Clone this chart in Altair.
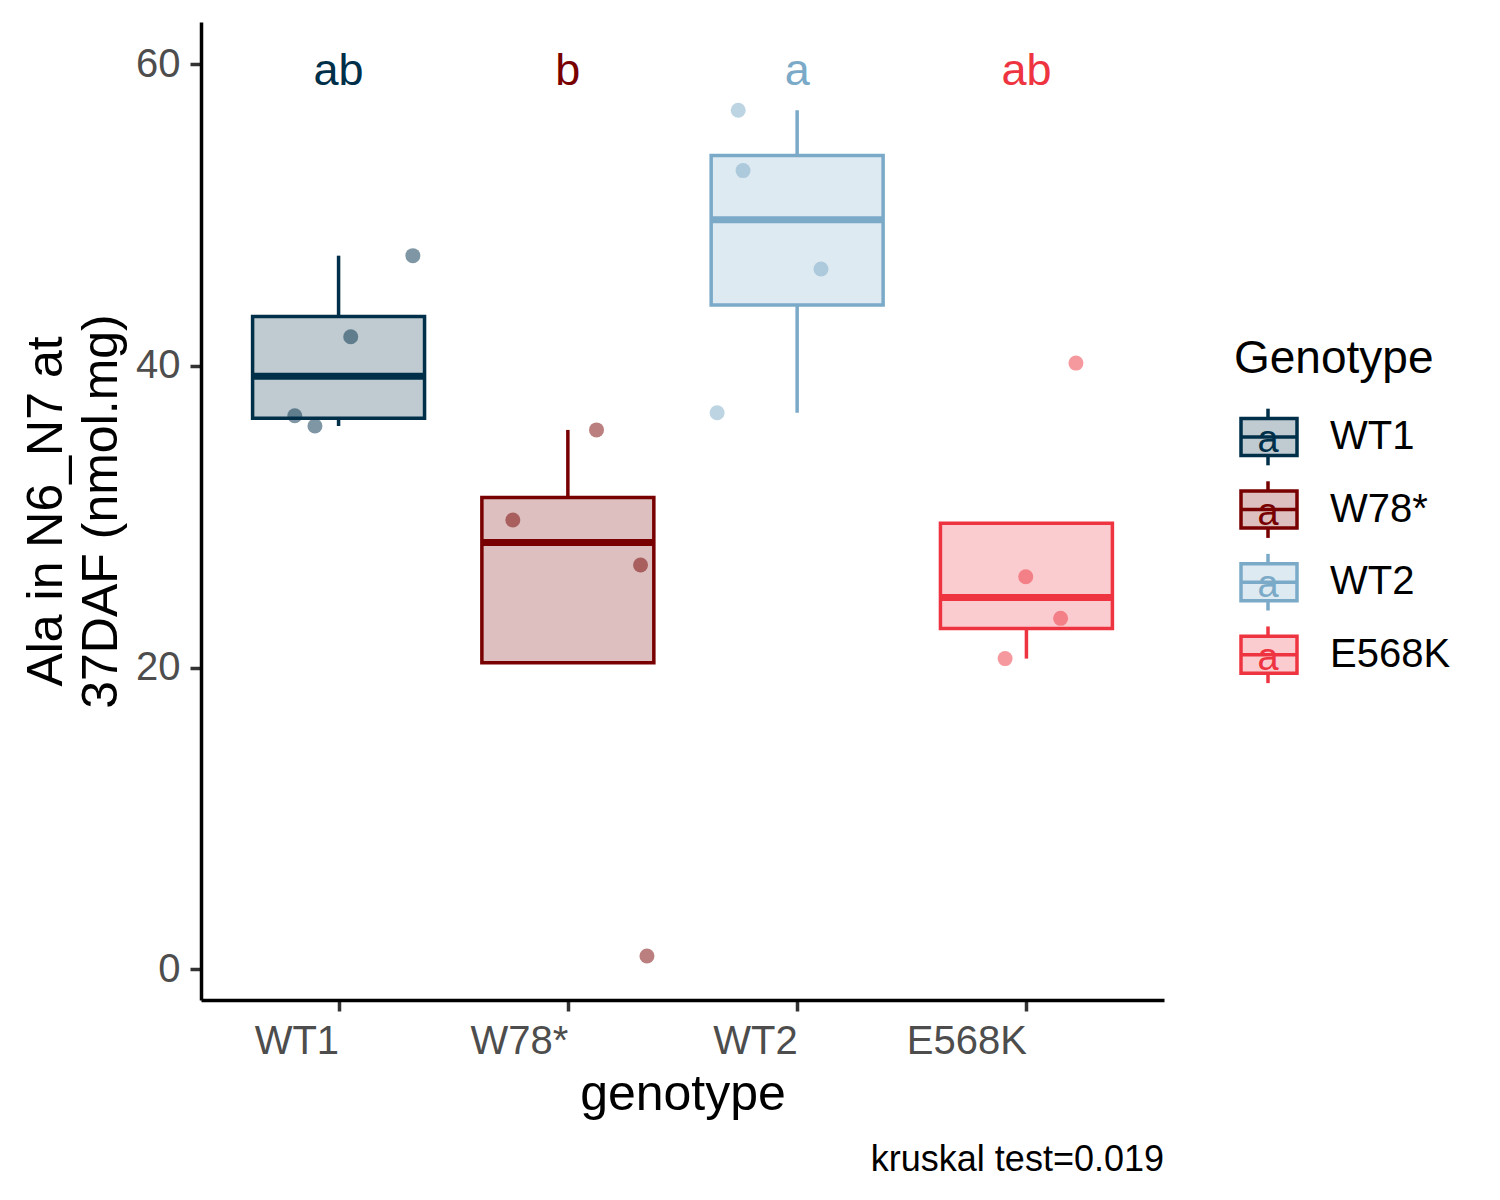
import json
import numpy as np
import pandas as pd
import altair as alt

# ---------------- data ----------------
genotypes = ["WT1", "W78*", "WT2", "E568K"]
colors = ["#003049", "#780000", "#7BAAC8", "#EE3440"]
sig_letters = ["ab", "b", "a", "ab"]
letter_y = 60

wt1_values = [36.70, 36.02, 41.94, 47.31]
w78_values = [29.79, 35.76, 26.81, 0.89]
wt2_values = [56.95, 52.95, 46.43, 36.90]
e568k_values = [20.60, 26.03, 23.27, 40.19]

# horizontal jitter of each point (in category units)
wt1_jitter = [-0.191, -0.103, 0.053, 0.324]
w78_jitter = [-0.240, 0.125, 0.317, 0.345]
wt2_jitter = [-0.257, -0.236, 0.104, -0.349]
e568k_jitter = [-0.093, -0.003, 0.149, 0.216]

y_ticks = [0, 20, 40, 60]
caption = "kruskal test=0.019"
y_title = ["Ala in N6_N7 at", "37DAF (nmol.mg)"]
x_title = "genotype"
legend_title = "Genotype"

all_values = [wt1_values, w78_values, wt2_values, e568k_values]
all_jitter = [wt1_jitter, w78_jitter, wt2_jitter, e568k_jitter]

# ---------------- tables ----------------
pts = []
for i, (g, vals, jit) in enumerate(zip(genotypes, all_values, all_jitter)):
    for v, j in zip(vals, jit):
        pts.append({"genotype": g, "idx": i + 1, "xpos": i + 1 + j, "value": v})
points_df = pd.DataFrame(pts)

BOX_HALF = 0.375
rows = []
for i, (g, vals) in enumerate(zip(genotypes, all_values)):
    a = np.array(vals)
    q1, med, q3 = np.percentile(a, [25, 50, 75])
    iqr = q3 - q1
    inside = a[(a >= q1 - 1.5 * iqr) & (a <= q3 + 1.5 * iqr)]
    lower = min(q1, inside.min())
    upper = max(q3, inside.max())
    rows.append({"genotype": g, "idx": i + 1, "xlo": i + 1 - BOX_HALF, "xhi": i + 1 + BOX_HALF,
                 "q1": q1, "med": med, "q3": q3, "lower": lower, "upper": upper,
                 "letter": sig_letters[i], "ly": letter_y})
box_df = pd.DataFrame(rows)

color_scale = alt.Scale(domain=genotypes, range=colors)
col = alt.Color("genotype:N", scale=color_scale, legend=None)

label_expr = json.dumps([""] + genotypes) + "[datum.value]"

xscale = alt.Scale(domain=[0.4, 4.6], nice=False, zero=False)
yscale = alt.Scale(domain=[-2.03, 62.8], nice=False, zero=False)

x_axis = alt.Axis(values=[1, 2, 3, 4], labelExpr=label_expr, title=x_title,
                  labelAlign="right", labelFontSize=40, labelColor="#4D4D4D",
                  labelPadding=10, tickSize=11, tickWidth=3.5, tickColor="#333333",
                  domainWidth=3.5, domainColor="black", grid=False,
                  titleFontSize=50, titleFontWeight="normal", titleColor="black",
                  titlePadding=8, labelFlush=False)
y_axis = alt.Axis(values=y_ticks, title=y_title, labelFontSize=40, labelColor="#4D4D4D",
                  labelPadding=10, tickSize=11, tickWidth=3.5, tickColor="#333333",
                  domainWidth=3.5, domainColor="black", grid=False,
                  titleFontSize=50, titleFontWeight="normal", titleColor="black",
                  titlePadding=9, titleLineHeight=55)

base_box = alt.Chart(box_df)

whisk_up = base_box.mark_rule(strokeWidth=3.5).encode(
    x=alt.X("idx:Q", scale=xscale, axis=x_axis),
    y=alt.Y("q3:Q", scale=yscale, axis=y_axis),
    y2="upper:Q", color=col)
whisk_lo = base_box.mark_rule(strokeWidth=3.5).encode(
    x="idx:Q", y="q1:Q", y2="lower:Q", color=col)
boxes = base_box.mark_rect(strokeWidth=3.5, fillOpacity=0.25).encode(
    x="xlo:Q", x2="xhi:Q", y="q1:Q", y2="q3:Q",
    fill=alt.Fill("genotype:N", scale=color_scale, legend=None),
    stroke=alt.Stroke("genotype:N", scale=color_scale, legend=None))
medians = base_box.mark_rule(strokeWidth=7).encode(
    x="xlo:Q", x2="xhi:Q", y="med:Q", color=col)
dots = alt.Chart(points_df).mark_circle(size=225, opacity=0.5).encode(
    x="xpos:Q", y="value:Q", color=col)
letters_layer = base_box.mark_text(fontSize=45, baseline="alphabetic", dy=21).encode(
    x="idx:Q", y="ly:Q", text="letter:N", color=col)

main = alt.layer(whisk_up, whisk_lo, boxes, medians, dots, letters_layer).properties(
    width=963, height=978,
    title=alt.TitleParams(caption, orient="bottom", anchor="end", fontSize=36,
                          fontWeight="normal", color="black", offset=24))

# ---------------- custom legend ----------------
leg_rows = pd.DataFrame({"genotype": genotypes, "row": list(range(len(genotypes))),
                         "top": [r - 0.255 for r in range(len(genotypes))],
                         "bot": [r + 0.255 for r in range(len(genotypes))],
                         "wtop": [r - 0.39 for r in range(len(genotypes))],
                         "wbot": [r + 0.39 for r in range(len(genotypes))]})
title_df = pd.DataFrame({"t": [legend_title], "row": [-1.08]})

lscale = alt.Scale(domain=[-415 / 72.6, (978 - 415) / 72.6], reverse=True, nice=False, zero=False)
lb = alt.Chart(leg_rows)
lw1 = lb.mark_rule(strokeWidth=3.5).encode(
    x=alt.value(44), y=alt.Y("wtop:Q", scale=lscale, axis=None), y2="top:Q", color=col)
lw2 = lb.mark_rule(strokeWidth=3.5).encode(
    x=alt.value(44), y=alt.Y("bot:Q", scale=lscale, axis=None), y2="wbot:Q", color=col)
lbox = lb.mark_rect(strokeWidth=3.5, fillOpacity=0.25).encode(
    x=alt.value(17), x2=alt.value(73), y=alt.Y("top:Q", scale=lscale, axis=None), y2="bot:Q",
    fill=alt.Fill("genotype:N", scale=color_scale, legend=None),
    stroke=alt.Stroke("genotype:N", scale=color_scale, legend=None))
lmed = lb.mark_rule(strokeWidth=3.5).encode(
    x=alt.value(17), x2=alt.value(73), y=alt.Y("row:Q", scale=lscale, axis=None), color=col)
la = lb.mark_text(fontSize=38, baseline="middle", dy=4).encode(
    x=alt.value(44), y=alt.Y("row:Q", scale=lscale, axis=None), text=alt.value("a"), color=col)
llab = lb.mark_text(fontSize=40, baseline="middle", align="left", color="black").encode(
    x=alt.value(106), y=alt.Y("row:Q", scale=lscale, axis=None), text="genotype:N")
ltitle = alt.Chart(title_df).mark_text(fontSize=46, baseline="middle", align="left", color="black").encode(
    x=alt.value(10), y=alt.Y("row:Q", scale=lscale, axis=None), text="t:N")

legend = alt.layer(lw1, lw2, lbox, lmed, la, llab, ltitle).properties(width=255, height=978)

chart = alt.hconcat(main, legend, spacing=60).properties(
    padding={"left": 13, "top": 14, "right": 0, "bottom": 5}
).configure(font="Liberation Sans").configure_view(stroke=None).resolve_scale(
    y="independent", x="independent")

chart.save("out.html", embed_options={"renderer": "svg", "actions": False})
